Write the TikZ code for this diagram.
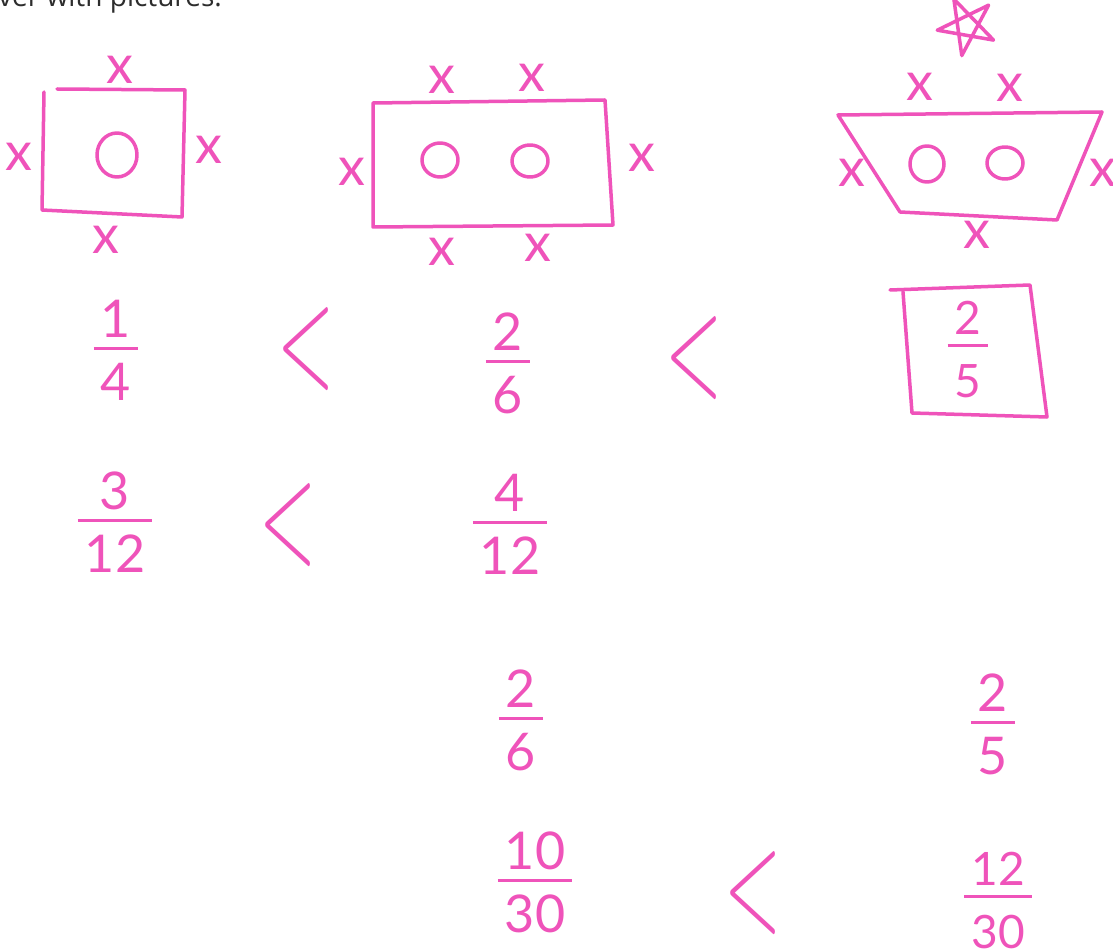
\documentclass[tikz,border=0pt]{standalone}
\usepackage{fontspec}
\newfontfamily\hand{Lato}
\newfontfamily\headfont{Open Sans}
\usetikzlibrary{positioning}
\definecolor{marker}{RGB}{239,83,186}
\definecolor{print}{RGB}{45,45,45}
\newcommand{\fr}[2]{{\renewcommand{\arraystretch}{0}\setlength{\arrayrulewidth}{3.5pt}%
  \begin{tabular}{@{\hspace{7pt}}c@{\hspace{7pt}}}\rule[-9pt]{0pt}{47pt}#1\\\hline\rule{0pt}{50pt}#2\end{tabular}}}
\newcommand{\less}{\scalebox{0.5}[1]{<}}
\tikzset{
  pen/.style={draw=marker,line width=3.5pt,line cap=round,line join=round},
  frac/.style={text=marker,inner sep=0pt,font=\hand\fontsize{52}{60}\selectfont},
  smallfrac/.style={frac,font=\hand\fontsize{46}{54}\selectfont},
  crossmark/.style={text=marker,inner sep=0pt,font=\hand\fontsize{54}{60}\selectfont},
  lessthan/.style={text=marker,inner sep=0pt,font=\fontsize{150}{150}\selectfont},
}
\begin{document}
\begin{tikzpicture}[x=1pt,y=-1pt]
\clip (0,0) rectangle (1113,949);
\fill[white] (0,0) rectangle (1113,949);
\node[anchor=base west,text=print,inner sep=0pt,font=\headfont\fontsize{28}{32}\selectfont] (head) at (-2,7) {ver with pictures.};

% the three shapes with their counters
\draw[pen] (44,92) -- (42,210) -- (182,217) -- (185,90) -- (57,89);
\draw[pen] (117,155) ellipse [x radius=20,y radius=22];
\draw[pen] (373,103) -- (605,100) -- (613,225) -- (373,227) -- cycle;
\draw[pen] (440,160) ellipse [x radius=18,y radius=17];
\draw[pen] (530,161) ellipse [x radius=18,y radius=16];
\draw[pen] (838,115) -- (1102,112) -- (1057,220) -- (900,212) -- cycle;
\draw[pen] (927,164) ellipse [x radius=17,y radius=18];
\draw[pen] (1005,163) ellipse [x radius=18,y radius=16];
\draw[pen,shift={(967,26)}] (100:30) -- (244:30) -- (28:30) -- (172:30) -- (316:30) -- cycle;

% sides
\foreach \p/\n in {(120,70)/a1,(19,157)/a2,(209,150)/a3,(106,240)/a4,
  (442,80)/b1,(532,78)/b2,(352,172)/b3,(642,158)/b4,(442,252)/b5,(538,248)/b6,
  (920,87)/c1,(1010,88)/c2,(852,173)/c3,(1103,173)/c4,(977,235)/c5}
  \node[crossmark] (x\n) at \p {x};

% fractions
\node[frac] (q14) at (116,350) {\fr{1}{4}};
\node[lessthan] (lt1) at (306,349) {\less};
\node[frac] (q26) at (508,363) {\fr{2}{6}};
\node[lessthan] (lt2) at (694,358) {\less};
\node[smallfrac] (q25) at (968,347) {\fr{2}{5}};
\draw[pen] (890,290) -- (1030,285) -- (1047,417) -- (912,413) -- (903,292);

\node[frac] (q312) at (115,522) {\fr{3}{12}};
\node[lessthan] (lt3) at (288,525) {\less};
\node[frac] (q412) at (510,524) {\fr{4}{12}};

\node[frac] (r26) at (521,720) {\fr{2}{6}};
\node[frac] (r25) at (993,724) {\fr{2}{5}};

\node[frac] (q1030) at (535,882) {\fr{10}{30}};
\node[lessthan] (lt4) at (753,893) {\less};
\node[smallfrac] (q1230) at (998,898) {\fr{12}{30}};
\end{tikzpicture}
\end{document}
